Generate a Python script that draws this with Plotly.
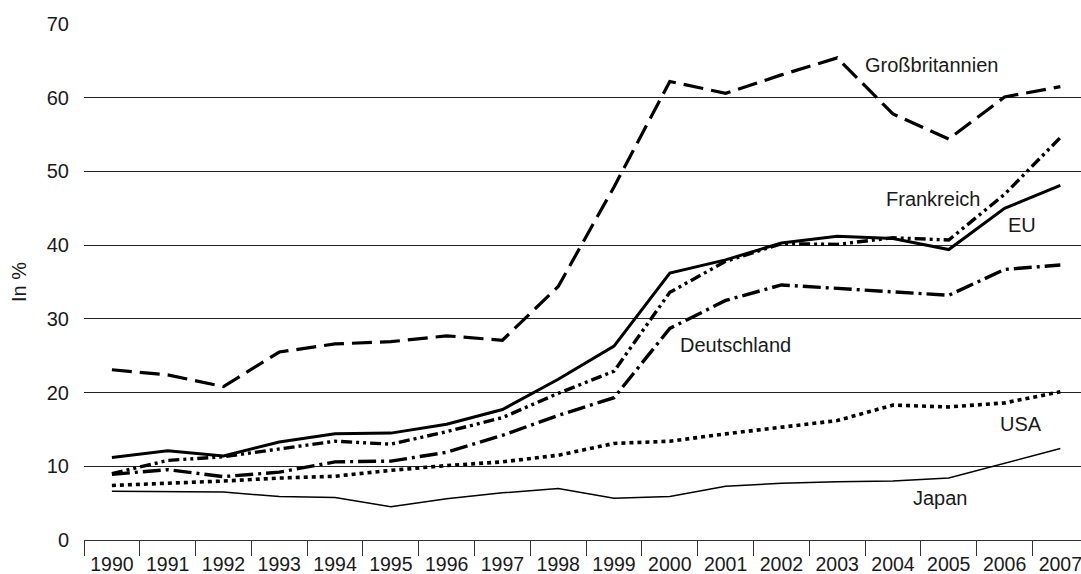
import plotly.graph_objects as go

years = [str(y) for y in range(1990, 2008)]

grossbritannien = [23.1, 22.4, 20.8, 25.5, 26.6, 26.9, 27.7, 27.1, 34.4, 47.9,
                   62.2, 60.6, 63.1, 65.4, 57.8, 54.4, 60.1, 61.5]
eu = [11.2, 12.1, 11.4, 13.3, 14.4, 14.5, 15.7, 17.7, 21.8, 26.3,
      36.2, 38.0, 40.3, 41.2, 40.9, 39.4, 45.0, 48.1]
frankreich = [9.0, 10.8, 11.3, 12.4, 13.4, 13.0, 14.7, 16.6, 19.9, 22.9,
              33.6, 37.8, 40.2, 40.1, 41.0, 40.7, 46.9, 54.6]
deutschland = [8.9, 9.55, 8.6, 9.2, 10.6, 10.7, 11.9, 14.2, 16.9, 19.3,
               28.7, 32.5, 34.6, 34.1, 33.7, 33.2, 36.7, 37.3]
usa = [7.4, 7.65, 8.0, 8.4, 8.65, 9.45, 10.1, 10.6, 11.5, 13.1,
       13.4, 14.4, 15.3, 16.2, 18.3, 18.05, 18.6, 20.1]
japan = [6.6, 6.6, 6.5, 5.9, 5.75, 4.5, 5.6, 6.4, 7.0, 5.66,
         5.9, 7.3, 7.7, 7.9, 8.0, 8.4, 10.4, 12.4]

y_ticks = [0, 10, 20, 30, 40, 50, 60, 70]

FONT = "Liberation Sans, Arial, sans-serif"
INK = "#000000"

series = [
    ("Großbritannien", grossbritannien, 3.2, "20px,8px"),
    ("EU", eu, 3.0, "solid"),
    ("Frankreich", frankreich, 3.4, "11px,4px,3px,4px,3px,4px"),
    ("Deutschland", deutschland, 3.4, "18px,5px,3px,5px"),
    ("USA", usa, 3.6, "4px,4px"),
    ("Japan", japan, 1.5, "solid"),
]

fig = go.Figure()
for name, vals, w, dash in series:
    fig.add_trace(go.Scatter(
        x=years, y=vals, mode="lines", name=name,
        line=dict(color=INK, width=w, dash=dash),
        showlegend=False, hoverinfo="skip",
    ))

labels = [
    ("Großbritannien", 14.69, 64.4),
    ("Frankreich", 14.72, 46.2),
    ("EU", 16.31, 42.7),
    ("Deutschland", 11.17, 26.4),
    ("USA", 16.29, 15.8),
    ("Japan", 14.86, 5.66),
]
for text, x, y in labels:
    fig.add_annotation(x=x, y=y, xref="x", yref="y", text=text, showarrow=False,
                       font=dict(family=FONT, size=20, color="#1a1a1a"),
                       xanchor="center", yanchor="middle")

fig.update_layout(
    width=1081, height=574,
    margin=dict(l=84, r=0, t=24, b=34, autoexpand=False),
    plot_bgcolor="white", paper_bgcolor="white",
    font=dict(family=FONT, size=20, color="#1a1a1a"),
)
fig.update_xaxes(
    type="category", range=[-0.5, 17.37],
    tickson="boundaries", ticks="outside", ticklen=15, tickwidth=1.2, tickcolor="#333",
    showline=True, linecolor="#333", linewidth=1.2,
    showgrid=False, zeroline=False,
    ticklabelstandoff=6,
    tickfont=dict(family=FONT, size=19.5, color="#1a1a1a"),
    automargin=False,
)
fig.update_yaxes(
    range=[0, 70], tickvals=y_ticks, ticktext=[str(v) for v in y_ticks],
    showgrid=True, gridcolor="#222", gridwidth=1,
    showline=False, zeroline=False, ticks="",
    ticklabelstandoff=14,
    tickfont=dict(family=FONT, size=20, color="#1a1a1a"),
    title=dict(text="In %", font=dict(family=FONT, size=20, color="#1a1a1a"), standoff=14),
    automargin=False,
)

# remove the default 8px page margin so the figure fills the window exactly
fig.write_html(
    "out.html",
    config={"displayModeBar": False},
    post_script="document.body.style.margin='0';document.body.style.overflow='hidden';",
)
